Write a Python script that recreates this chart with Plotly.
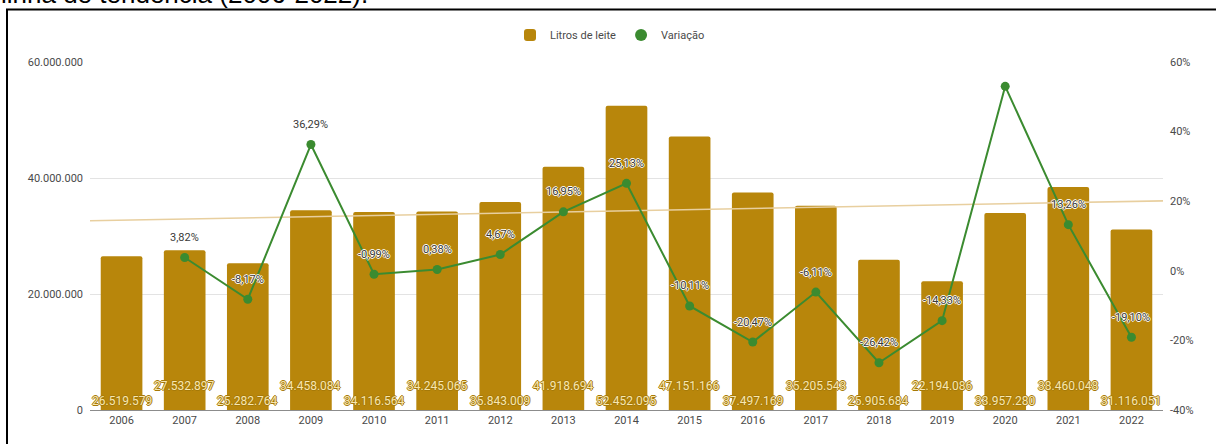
import numpy as np
import plotly.graph_objects as go

# Annual milk volume (litres) and year-over-year change (%)
years = [2006, 2007, 2008, 2009, 2010, 2011, 2012, 2013, 2014,
         2015, 2016, 2017, 2018, 2019, 2020, 2021, 2022]
litros = [26519579, 27532897, 25282764, 34458084, 34116564, 34245065,
          35843009, 41918694, 52452095, 47151166, 37497169, 35205543,
          25905684, 22194086, 33957280, 38460048, 31116051]
variacao = [None, 3.82, -8.17, 36.29, -0.99, 0.38, 4.67, 16.95, 25.13,
            -10.11, -20.47, -6.11, -26.42, -14.33, 53.00, 13.26, -19.10]
# years whose change label is not printed
sem_rotulo = {2020}

left_ticks = [0, 20000000, 40000000, 60000000]
right_ticks = [-40, -20, 0, 20, 40, 60]
right_labels = ["-40%", "-20%", "0%", "20%", "40%", "60%"]
caption = "linha de tendência (2006-2022)."

W, H = 1216, 444
ML, MR, MT, MB = 90, 53, 62, 34
PW, PH = W - ML - MR, H - MT - MB


def px(x):
    return (x - ML) / PW


def py(y):
    return (H - MB - y) / PH


GOLD = "#b8860b"
GREEN = "#3b8b30"
TREND = "#e8cf9f"
FONT = "Roboto, Arial, sans-serif"

fig = go.Figure()

fig.add_trace(go.Bar(
    x=years, y=litros, name="Litros de leite",
    marker=dict(color=GOLD, cornerradius=2, line=dict(width=0)),
    width=0.66, yaxis="y",
))

# linear trend of the yearly volume
coef = np.polyfit(years, litros, 1)
tx = [years[0] - 0.5, years[-1] + 0.5]
fig.add_trace(go.Scatter(
    x=tx, y=np.polyval(coef, tx), mode="lines",
    line=dict(color=TREND, width=1.6), showlegend=False,
    hoverinfo="skip", yaxis="y",
))

fig.add_trace(go.Scatter(
    x=years, y=variacao, mode="lines", line=dict(color=GREEN, width=2),
    showlegend=False, yaxis="y2", connectgaps=False,
))
fig.add_trace(go.Scatter(
    x=years, y=variacao, mode="markers", name="Variação",
    marker=dict(color=GREEN, size=9), yaxis="y2",
))


def fmt_br(v, dec=2):
    s = f"{v:,.{dec}f}"
    return s.replace(",", "X").replace(".", ",").replace("X", ".")


annotations = []
# volume labels along the base of the bars, alternating rows
for i, (yr, v) in enumerate(zip(years, litros)):
    annotations.append(dict(
        x=yr, xref="x", y=0, yref="paper", yanchor="middle",
        yshift=9 if i % 2 == 0 else 24,
        text=f"{v:,d}".replace(",", "."), showarrow=False,
        font=dict(family=FONT, size=12, color="#f8e6b0",
                  shadow="1px 0 0 #a57908, -1px 0 0 #a57908, 0 1px 0 #a57908, 0 -1px 0 #a57908"),
    ))

# change labels above each point
for yr, v in zip(years, variacao):
    if v is None or yr in sem_rotulo:
        continue
    annotations.append(dict(
        x=yr, xref="x", y=v, yref="y2", yanchor="middle", yshift=20,
        text=fmt_br(v) + "%", showarrow=False,
        font=dict(family=FONT, size=11, color="#3a3a3a",
                  shadow="1px 0 0 #fff, -1px 0 0 #fff, 0 1px 0 #fff, 0 -1px 0 #fff"),
    ))

annotations.append(dict(
    x=px(-1), y=py(11), xref="paper", yref="paper",
    xanchor="left", yanchor="bottom", text=caption, showarrow=False,
    font=dict(family="Liberation Sans, Arial, sans-serif", size=26, color="#000"),
))

shapes = [
    dict(type="line", xref="paper", yref="paper", x0=px(6), x1=px(W + 5),
         y0=py(9.5), y1=py(9.5), line=dict(color="#000", width=2)),
    dict(type="line", xref="paper", yref="paper", x0=px(7), x1=px(7),
         y0=py(9.5), y1=py(H + 5), line=dict(color="#000", width=2)),
]

fig.update_layout(
    width=W, height=H,
    margin=dict(l=ML, r=MR, t=MT, b=MB, pad=0),
    paper_bgcolor="#fff", plot_bgcolor="#fff",
    separators=",.",
    font=dict(family=FONT, size=11, color="#4a4a4a"),
    bargap=0.34,
    xaxis=dict(
        range=[years[0] - 0.5, years[-1] + 0.5], tickvals=years,
        ticktext=[str(y) for y in years], showgrid=False, zeroline=False,
        showline=True, linecolor="#8c8c8c", linewidth=1, ticks="",
        tickfont=dict(size=11, color="#4a4a4a"),
    ),
    yaxis=dict(
        range=[0, 60000000], tickvals=left_ticks, tickformat=",d",
        showgrid=True, gridcolor="#e3e3e3", gridwidth=1, zeroline=False,
        ticks="", ticklabelstandoff=6, tickfont=dict(size=11, color="#4a4a4a"),
    ),
    yaxis2=dict(
        range=[-40, 60], tickmode="array", tickvals=right_ticks,
        ticktext=right_labels,
        overlaying="y", side="right", showgrid=False, zeroline=False,
        ticks="", ticklabelstandoff=6, tickfont=dict(size=11, color="#4a4a4a"),
    ),
    legend=dict(
        orientation="h", x=px(610), xanchor="center", y=py(35), yanchor="middle",
        font=dict(size=11, color="#4a4a4a"), bgcolor="rgba(0,0,0,0)",
        itemsizing="constant", itemwidth=30,
    ),
    annotations=annotations, shapes=shapes,
)

fig.write_html("out.html")
